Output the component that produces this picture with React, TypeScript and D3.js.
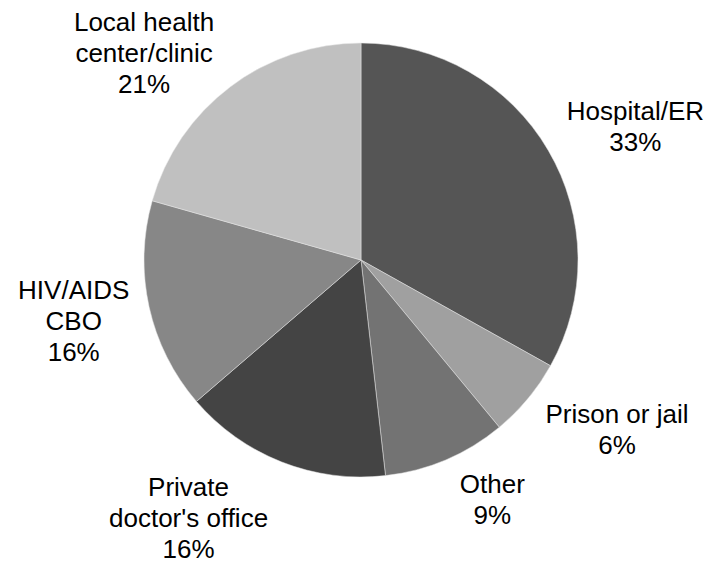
import * as d3 from "d3"
import { useMemo } from "react"

// slices clockwise from 12 o'clock
const categories = ["Hospital/ER", "Prison or jail", "Other", "Private doctor's office", "HIV/AIDS CBO", "Local health center/clinic"]
const values = [33.1, 5.9, 9.2, 15.5, 15.7, 20.6]
const labelLines = [
    ["Hospital/ER", "33%"],
    ["Prison or jail", "6%"],
    ["Other", "9%"],
    ["Private", "doctor's office", "16%"],
    ["HIV/AIDS", "CBO", "16%"],
    ["Local health", "center/clinic", "21%"],
]
const colors = ["#555555", "#a0a0a0", "#737373", "#444444", "#878787", "#c0c0c0"]

const WIDTH = 710
const HEIGHT = 569
const FONT = "Liberation Sans, Arial, sans-serif"
const FONT_SIZE = 26
const LINE_H = 31

const PieChart = ({ width, height }: { width: number; height: number }) => {
    const cx = 361
    const cy = 260
    const radius = 217

    const pie = useMemo(() => {
        const gen = d3.pie<number>().sort(null).value((d) => d)
        return gen(values)
    }, [])

    const arcGen = d3.arc<d3.PieArcDatum<number>>().innerRadius(0).outerRadius(radius)
    const labelArc = d3.arc<d3.PieArcDatum<number>>().innerRadius(radius + 10).outerRadius(radius + 10)

    const measure = useMemo(() => {
        const ctx = document.createElement("canvas").getContext("2d")!
        ctx.font = `${FONT_SIZE}px ${FONT}`
        return (s: string) => ctx.measureText(s).width
    }, [])

    return (
        <svg width={width} height={height} style={{ position: "absolute", left: 0, top: 0 }}>
            <g transform={`translate(${cx}, ${cy})`}>
                {pie.map((p, i) => (
                    <path key={categories[i]} d={arcGen(p) as string} fill={colors[i]} stroke="#e6e6e6" strokeWidth={0.5} />
                ))}
                {pie.map((p, i) => {
                    const mid = (p.startAngle + p.endAngle) / 2
                    const [ax, ay] = labelArc.centroid(p)
                    const dirY = -Math.cos(mid)
                    const right = Math.sin(mid) > 0
                    const lines = labelLines[i]
                    const w = d3.max(lines, measure) as number
                    const h = lines.length * LINE_H
                    const edge = right ? ax + 10 : ax - 10
                    const midX = right ? edge + w / 2 : edge - w / 2
                    const k = Math.max(-1, Math.min(1, dirY * 1.2))
                    let top = ay + (k * h) / 2 - h / 2
                    // keep label block inside the chart area
                    top = Math.max(top, 6 - cy)
                    top = Math.min(top, height - cy - h)
                    return (
                        <text key={"l" + i} textAnchor="middle" fontFamily={FONT} fontSize={FONT_SIZE} fill="#000">
                            {lines.map((s, j) => (
                                <tspan key={j} x={midX} y={top + LINE_H * (j + 0.5)} dominantBaseline="central">
                                    {s}
                                </tspan>
                            ))}
                        </text>
                    )
                })}
            </g>
        </svg>
    )
}

export default function App() {
    return <PieChart width={WIDTH} height={HEIGHT} />
}
